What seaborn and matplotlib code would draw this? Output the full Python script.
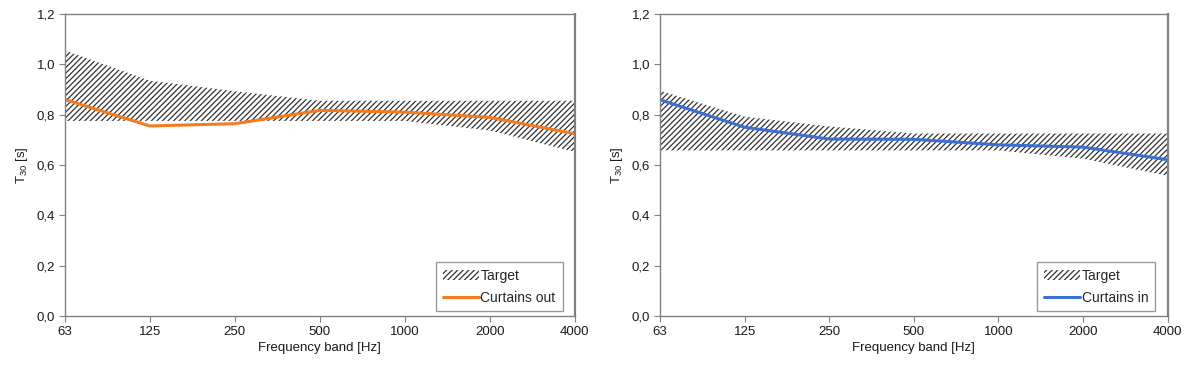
import matplotlib
matplotlib.use("Agg")
import matplotlib.pyplot as plt
import seaborn as sns
import numpy as np
import pandas as pd

bands = ["63", "125", "250", "500", "1000", "2000", "4000"]

# Left panel: curtains out
target_out_upper = [1.055, 0.935, 0.893, 0.855, 0.855, 0.855, 0.855]
target_out_lower = [0.775, 0.775, 0.775, 0.775, 0.775, 0.737, 0.652]
curtains_out = [0.86, 0.755, 0.764, 0.817, 0.81, 0.789, 0.724]

# Right panel: curtains in
target_in_upper = [0.895, 0.792, 0.753, 0.725, 0.725, 0.725, 0.725]
target_in_lower = [0.658, 0.658, 0.658, 0.658, 0.658, 0.625, 0.557]
curtains_in = [0.859, 0.75, 0.703, 0.702, 0.68, 0.671, 0.621]

sns.set_style("white")
plt.rcParams["font.family"] = ["Liberation Sans", "DejaVu Sans"]
plt.rcParams["mathtext.fontset"] = "custom"
plt.rcParams["mathtext.rm"] = "Liberation Sans"
plt.rcParams["mathtext.it"] = "Liberation Sans"
plt.rcParams["hatch.linewidth"] = 0.9
plt.rcParams["hatch.color"] = "#333333"

fig = plt.figure(figsize=(12, 3.72), dpi=100)
ax1 = fig.add_axes([0.054, 0.1505, 0.425, 0.812])
ax2 = fig.add_axes([0.55, 0.1505, 0.423, 0.812])

panels = [
    (ax1, target_out_upper, target_out_lower, curtains_out, "Curtains out", "#F37B21"),
    (ax2, target_in_upper, target_in_lower, curtains_in, "Curtains in", "#3C6FD3"),
]

for ax, up, lo, curve, label, color in panels:
    x = np.arange(len(bands))
    ax.fill_between(x, lo, up, facecolor="none", edgecolor="#333333",
                    hatch="//////", linewidth=0, label="Target")
    df = pd.DataFrame({"x": x, "y": curve})
    sns.lineplot(data=df, x="x", y="y", ax=ax, color=color, linewidth=2.2,
                 label=label, legend=False)
    ax.set_xlim(0, len(bands) - 1)
    ax.set_ylim(0, 1.2)
    ax.set_xticks(x)
    ax.set_xticklabels(bands)
    yt = np.round(np.arange(0, 1.21, 0.2), 1)
    ax.set_yticks(yt)
    ax.set_yticklabels([f"{v:.1f}".replace(".", ",") for v in yt])
    ax.tick_params(axis="both", which="major", direction="out", length=4,
                   width=0.8, color="#808080", labelsize=9.5, pad=3,
                   bottom=True, left=True, labelcolor="#1a1a1a")
    for s in ax.spines.values():
        s.set_visible(True)
        s.set_color("#808080")
        s.set_linewidth(1.0)
    ax.spines["right"].set_linewidth(1.6)
    ax.set_xlabel("Frequency band [Hz]", fontsize=9.5, color="#1a1a1a", labelpad=3)
    ax.set_ylabel(r"T$_{\mathrm{30}}$ [s]", fontsize=9.5, color="#1a1a1a", labelpad=5)
    leg = ax.legend(loc="lower right", fontsize=10, frameon=True, fancybox=False,
                    borderpad=0.5, handlelength=2.6, handletextpad=0.1,
                    labelspacing=0.55, bbox_to_anchor=(0.976, 0.015),
                    borderaxespad=0.0)
    leg.get_frame().set_edgecolor("#808080")
    leg.get_frame().set_linewidth(1.0)

fig.savefig("out.png", dpi=100, facecolor="white")
